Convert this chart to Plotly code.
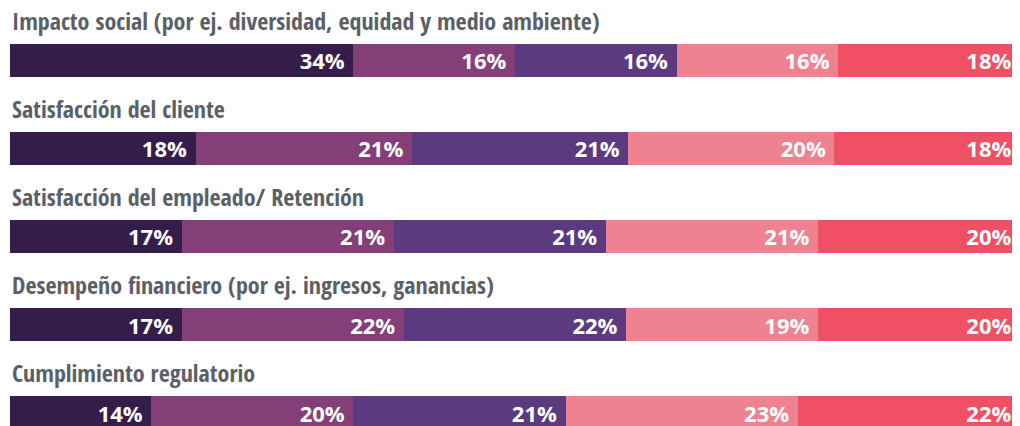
import plotly.graph_objects as go

categories = [
    "Impacto social (por ej. diversidad, equidad y medio ambiente)",
    "Satisfacción del cliente",
    "Satisfacción del empleado/ Retención",
    "Desempeño financiero (por ej. ingresos, ganancias)",
    "Cumplimiento regulatorio",
]
series_names = ["Nivel 1", "Nivel 2", "Nivel 3", "Nivel 4", "Nivel 5"]
s1 = [34, 18, 17, 17, 14]
s2 = [16, 21, 21, 22, 20]
s3 = [16, 21, 21, 22, 21]
s4 = [16, 20, 21, 19, 23]
s5 = [18, 18, 20, 20, 22]
series_values = [s1, s2, s3, s4, s5]
colors = ["#341d4a", "#843e78", "#5b3a80", "#ee8290", "#ef5064"]

ypos = list(range(len(categories)))
bar_w = 0.371

fig = go.Figure()
for name, vals, col in zip(series_names, series_values, colors):
    fig.add_trace(go.Bar(
        y=ypos, x=vals, orientation="h", name=name,
        marker=dict(color=col, line=dict(width=0)),
        width=bar_w,
        text=[f"{v}%\u00a0" for v in vals],
        textposition="inside", insidetextanchor="end",
        constraintext="none",
        textfont=dict(family="Open Sans", size=22, color="white", weight="bold"),
        hoverinfo="skip",
    ))

for i, c in enumerate(categories):
    fig.add_annotation(
        x=0, xref="x", y=i - 0.452, yref="y",
        text=c, showarrow=False, xanchor="left", yanchor="middle",
        font=dict(family="Open Sans Condensed, Roboto Condensed, sans-serif",
                  size=24, color="#5b6066", weight="bold"),
    )

fig.update_layout(
    barmode="stack", barnorm="percent",
    width=1012, height=418,
    margin=dict(l=2, r=0, t=0, b=0),
    paper_bgcolor="white", plot_bgcolor="white",
    showlegend=False,
    xaxis=dict(range=[0, 100], visible=False, fixedrange=True),
    yaxis=dict(range=[4.1507, -0.5923], visible=False, fixedrange=True),
)
fig.write_html("out.html")
